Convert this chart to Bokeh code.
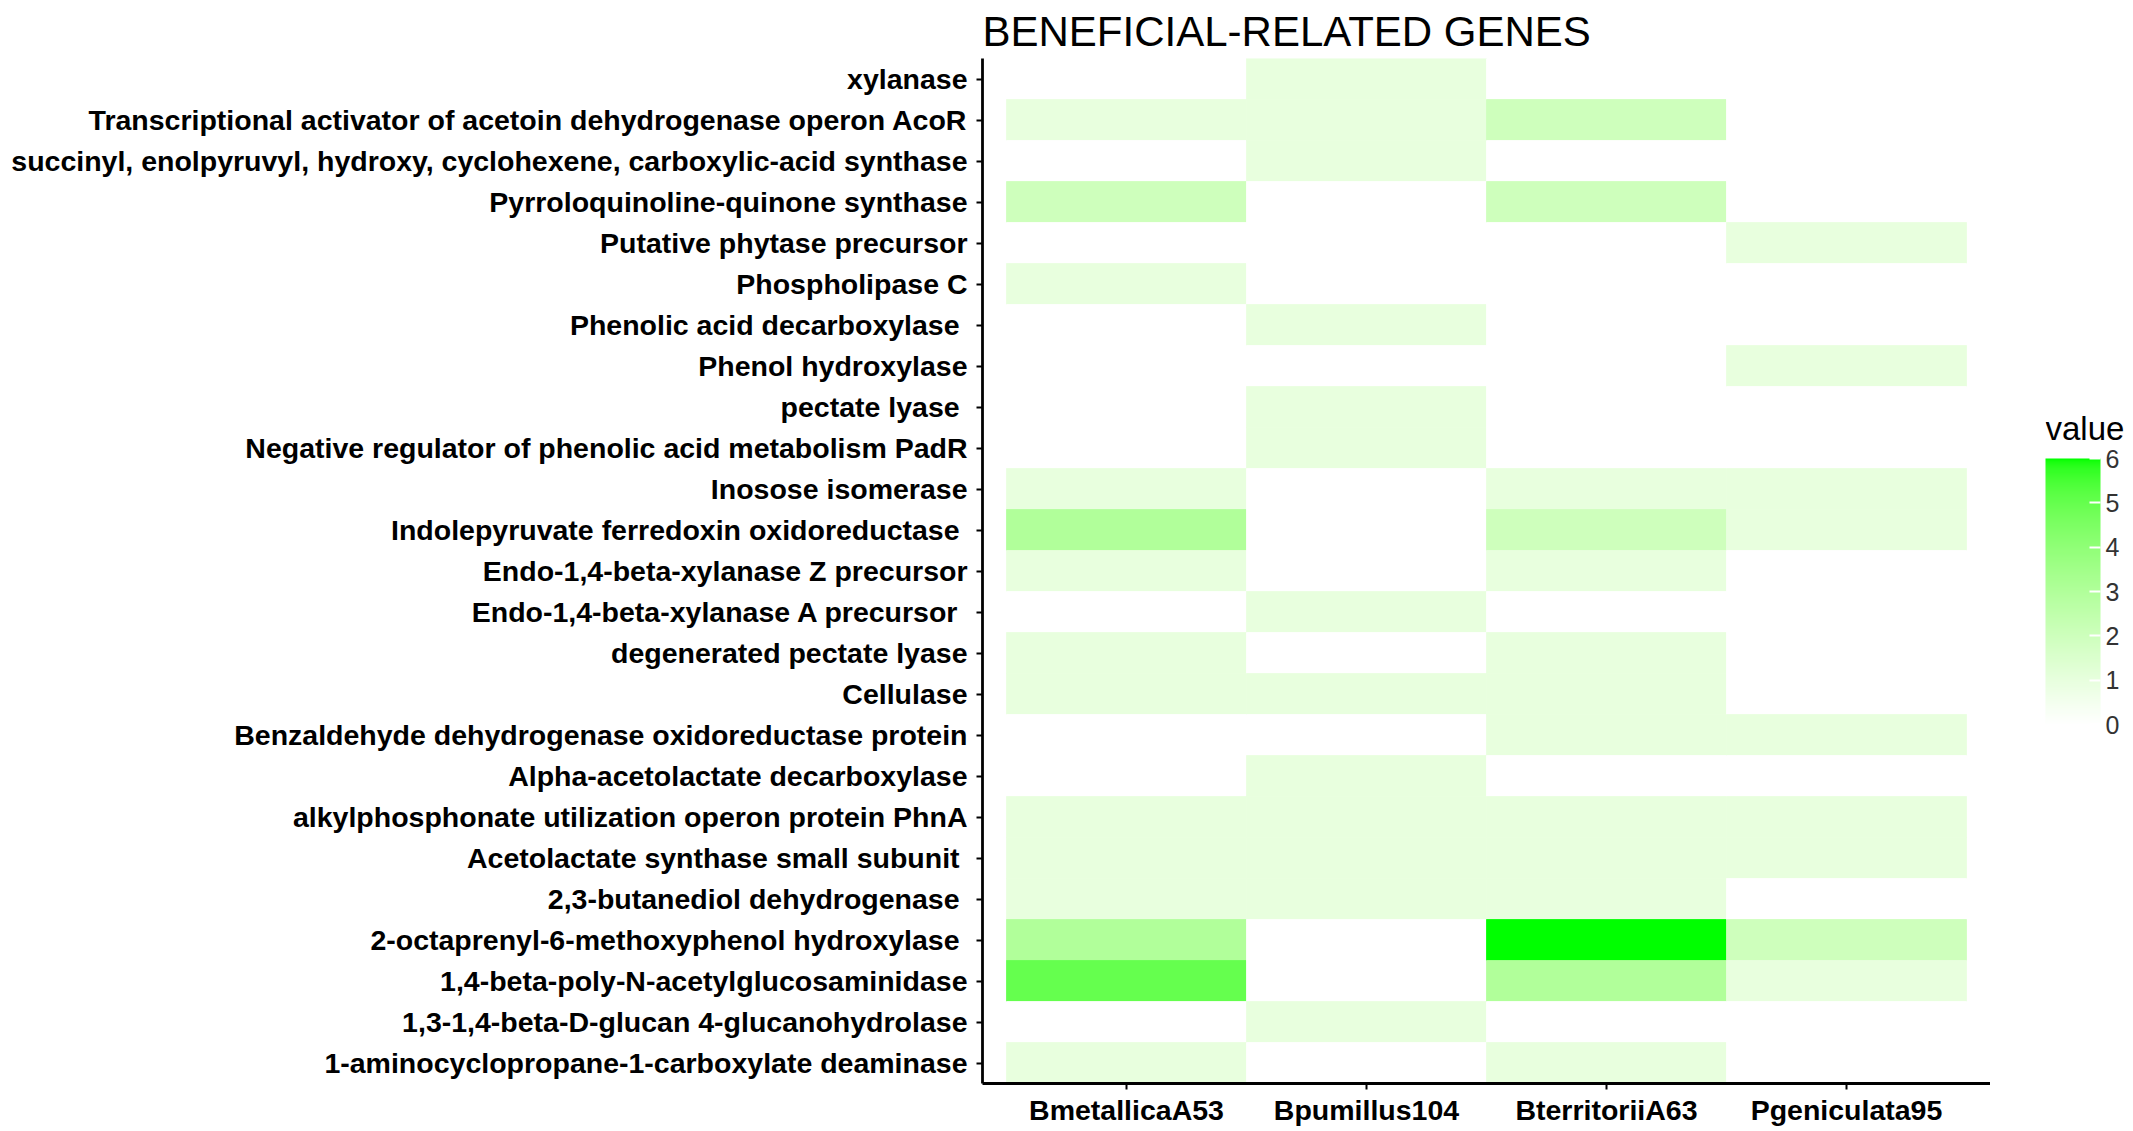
import numpy as np
from bokeh.plotting import figure
from bokeh.layouts import row
from bokeh.models import (ColumnDataSource, LinearColorMapper, ColorBar,
                          FixedTicker, FactorRange, Range1d, Label)
from bokeh.transform import transform
from bokeh.embed import file_html
from bokeh.resources import INLINE

# ---------------- data ----------------
TITLE = "BENEFICIAL-RELATED GENES"
LEGEND_TITLE = "value"
SAMPLES = ["BmetallicaA53", "Bpumillus104", "BterritoriiA63", "Pgeniculata95"]

# genes, listed top to bottom as in the chart
GENES = [
    "xylanase",
    "Transcriptional activator of acetoin dehydrogenase operon AcoR",
    "succinyl, enolpyruvyl, hydroxy, cyclohexene, carboxylic-acid synthase",
    "Pyrroloquinoline-quinone synthase",
    "Putative phytase precursor",
    "Phospholipase C",
    "Phenolic acid decarboxylase ",
    "Phenol hydroxylase",
    "pectate lyase ",
    "Negative regulator of phenolic acid metabolism PadR",
    "Inosose isomerase",
    "Indolepyruvate ferredoxin oxidoreductase ",
    "Endo-1,4-beta-xylanase Z precursor",
    "Endo-1,4-beta-xylanase A precursor ",
    "degenerated pectate lyase",
    "Cellulase",
    "Benzaldehyde dehydrogenase oxidoreductase protein",
    "Alpha-acetolactate decarboxylase",
    "alkylphosphonate utilization operon protein PhnA",
    "Acetolactate synthase small subunit ",
    "2,3-butanediol dehydrogenase ",
    "2-octaprenyl-6-methoxyphenol hydroxylase ",
    "1,4-beta-poly-N-acetylglucosaminidase",
    "1,3-1,4-beta-D-glucan 4-glucanohydrolase",
    "1-aminocyclopropane-1-carboxylate deaminase",
]

# values per sample, same order as GENES
BMETALLICA_A53 = [0, 1, 0, 2, 0, 1, 0, 0, 0, 0, 1, 3, 1, 0, 1, 1, 0, 0, 1, 1, 1, 3, 5, 0, 1]
BPUMILLUS_104 = [1, 1, 1, 0, 0, 0, 1, 0, 1, 1, 0, 0, 0, 1, 0, 1, 0, 1, 1, 1, 1, 0, 0, 1, 0]
BTERRITORII_A63 = [0, 2, 0, 2, 0, 0, 0, 0, 0, 0, 1, 2, 1, 0, 1, 1, 1, 0, 1, 1, 1, 6, 3, 0, 1]
PGENICULATA_95 = [0, 0, 0, 0, 1, 0, 0, 1, 0, 0, 1, 1, 0, 0, 0, 0, 1, 0, 1, 1, 0, 2, 1, 0, 0]

LEGEND_TICKS = [0, 1, 2, 3, 4, 5, 6]
VALUE_LOW, VALUE_HIGH = 0, 6

SERIES = [BMETALLICA_A53, BPUMILLUS_104, BTERRITORII_A63, PGENICULATA_95]

# ---------------- palette: white -> green, interpolated in CIE Lab ----------------
WHITE_D65 = np.array([0.95047, 1.0, 1.08883])
M = np.array([[0.4124, 0.3576, 0.1805],
              [0.2126, 0.7152, 0.0722],
              [0.0193, 0.1192, 0.9505]])
MINV = np.linalg.inv(M)


def rgb_to_lab(rgb):
    c = np.asarray(rgb, float) / 255.0
    lin = np.where(c <= 0.04045, c / 12.92, ((c + 0.055) / 1.055) ** 2.4)
    t = (M @ lin) / WHITE_D65
    f = np.where(t > 0.008856, np.cbrt(t), 7.787 * t + 16 / 116)
    return np.array([116 * f[1] - 16, 500 * (f[0] - f[1]), 200 * (f[1] - f[2])])


def lab_to_hex(lab):
    L, a, b = lab
    fy = (L + 16) / 116
    f = np.array([fy + a / 500, fy, fy - b / 200])
    t = np.where(f > 0.2069, f ** 3, (f - 16 / 116) / 7.787)
    lin = MINV @ (t * WHITE_D65)
    lin = np.clip(lin, 0, 1)
    c = np.where(lin <= 0.0031308, 12.92 * lin, 1.055 * lin ** (1 / 2.4) - 0.055)
    c = np.clip(np.round(c * 255), 0, 255).astype(int)
    return "#%02x%02x%02x" % tuple(c)


lab_lo = rgb_to_lab([255, 255, 255])
lab_hi = rgb_to_lab([0, 255, 0])
PALETTE = [lab_to_hex(lab_lo + (lab_hi - lab_lo) * s) for s in np.linspace(0, 1, 256)]

# ---------------- source ----------------
xs, ys, vals = [], [], []
for sample, series in zip(SAMPLES, SERIES):
    for gene, v in zip(GENES, series):
        xs.append(sample)
        ys.append(gene)
        vals.append(v)
source = ColumnDataSource(dict(sample=xs, gene=ys, value=vals))

mapper = LinearColorMapper(palette=PALETTE, low=VALUE_LOW, high=VALUE_HIGH)

FONT = "Liberation Sans"
TOTAL_H = 1125
FRAME_W, FRAME_H = 1008, 1025
BORDER_L, BORDER_T = 982, 58
BORDER_B = TOTAL_H - BORDER_T - FRAME_H

# ---------------- main heatmap ----------------
p = figure(
    x_range=FactorRange(factors=SAMPLES, range_padding=0.1, range_padding_units="absolute"),
    y_range=FactorRange(factors=GENES[::-1], range_padding=0),
    frame_width=FRAME_W, frame_height=FRAME_H,
    min_border_left=BORDER_L, min_border_right=0,
    min_border_top=BORDER_T, min_border_bottom=BORDER_B,
    output_backend="svg", toolbar_location=None, title=TITLE,
)

p.rect(x="sample", y="gene", width=1, height=1, source=source,
       fill_color=transform("value", mapper),
       line_color=transform("value", mapper), line_width=0.8)

p.title.text_font = FONT
p.title.text_font_size = "42px"
p.title.text_font_style = "normal"
p.title.text_color = "black"
p.title.align = "left"
p.title.standoff = 8
p.title.offset = 0

p.outline_line_color = None
p.xgrid.grid_line_color = None
p.ygrid.grid_line_color = None
p.background_fill_color = "white"
p.border_fill_color = "white"

for ax in (p.xaxis, p.yaxis):
    ax.axis_line_color = "black"
    ax.axis_line_width = 2.8
    ax.major_tick_line_color = "black"
    ax.major_tick_line_width = 2
    ax.major_tick_in = 0
    ax.major_tick_out = 6
    ax.minor_tick_line_color = None
    ax.major_label_text_font = FONT
    ax.major_label_text_font_size = "28.5px"
    ax.major_label_text_font_style = "bold"
    ax.major_label_text_color = "black"

p.yaxis.major_label_standoff = 9
p.xaxis.major_label_standoff = 4

# ---------------- legend panel (same frame height as the heatmap) ----------------
LEG_L, LEG_W = 55, 85
BAR_W, BAR_H = 55, 266
BAR_BOTTOM = 359          # px above the frame bottom
TITLE_Y = 655             # px above the frame bottom

leg = figure(
    x_range=Range1d(0, 1), y_range=Range1d(0, 1),
    frame_width=LEG_W, frame_height=FRAME_H,
    min_border_left=LEG_L, min_border_right=0,
    min_border_top=BORDER_T, min_border_bottom=BORDER_B,
    output_backend="svg", toolbar_location=None,
)
leg.axis.visible = False
leg.grid.visible = False
leg.outline_line_color = None
leg.background_fill_color = "white"
leg.border_fill_color = "white"

cb = ColorBar(
    color_mapper=mapper,
    ticker=FixedTicker(ticks=LEGEND_TICKS),
    location=(0, BAR_BOTTOM),
    width=BAR_W, height=BAR_H,
    padding=0,
    title=None,
    major_label_text_font=FONT, major_label_text_font_size="25px",
    major_label_text_color="#333333",
    label_standoff=5,
    major_tick_line_color="white", major_tick_line_width=2, major_tick_in=11, major_tick_out=0,
    minor_tick_line_color=None,
    bar_line_color=None, border_line_color=None,
    background_fill_color=None,
)
leg.add_layout(cb)

leg.add_layout(Label(
    x=0, y=TITLE_Y, x_units="screen", y_units="screen",
    text=LEGEND_TITLE, text_font=FONT, text_font_size="33px",
    text_color="black", text_align="left", text_baseline="middle",
))

layout = row(p, leg)
open("out.html", "w").write(file_html(layout, INLINE))
